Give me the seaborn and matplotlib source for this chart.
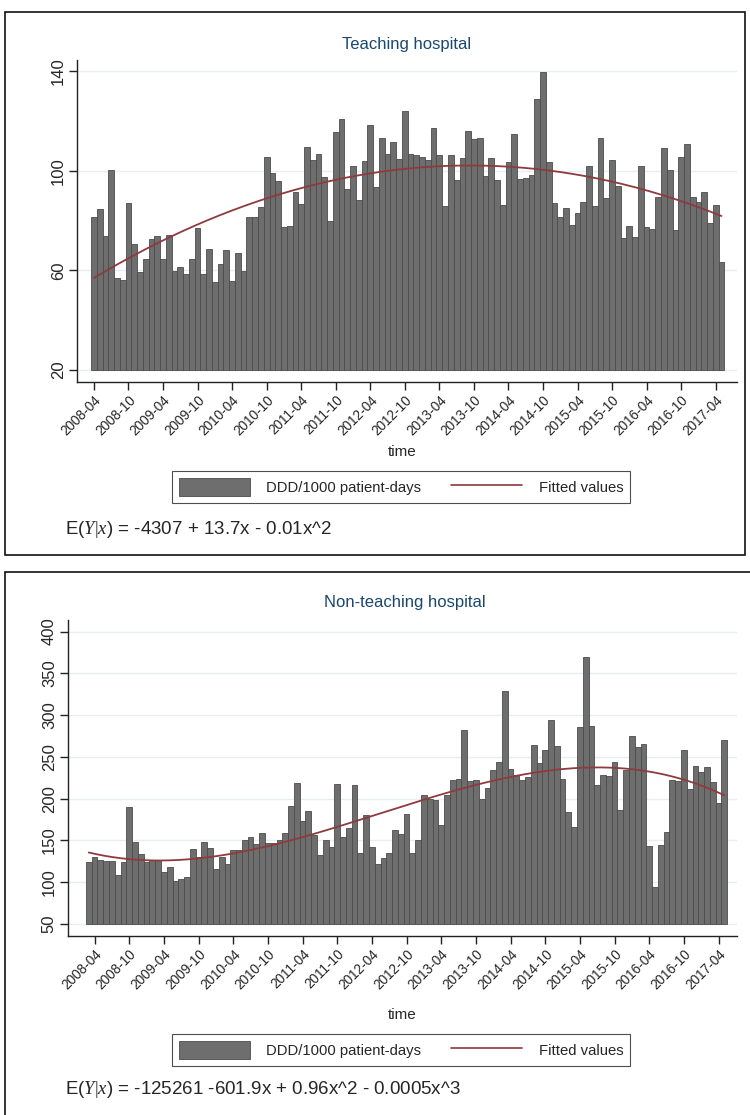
import numpy as np
import pandas as pd
import seaborn as sns
import matplotlib.pyplot as plt
from matplotlib.patches import Patch, Rectangle
from matplotlib.lines import Line2D

# --- data (DDD/1000 patient-days per month) ---
teach_months = pd.period_range("2008-04", "2017-05", freq="M").strftime("%Y-%m")
teach_ddd = [
    81.3, 84.5, 73.8, 100.3, 57.0, 56.1, 87.0, 70.6, 59.5, 64.4,
    72.6, 73.9, 64.4, 74.2, 59.7, 61.2, 58.4, 64.7, 77.0, 58.7,
    68.7, 55.3, 62.7, 68.3, 55.6, 67.1, 59.9, 81.3, 81.3, 85.3,
    105.6, 98.9, 96.0, 77.5, 77.8, 91.3, 86.6, 109.6, 104.3, 106.5,
    97.3, 80.0, 115.4, 120.6, 92.5, 101.9, 88.2, 103.9, 118.3, 93.6,
    113.0, 106.5, 111.6, 104.7, 124.1, 106.5, 106.3, 105.6, 104.3, 117.2,
    106.3, 85.8, 106.3, 96.3, 105.0, 116.0, 112.8, 113.0, 98.0, 105.2,
    96.3, 86.2, 103.6, 114.8, 96.5, 96.9, 98.3, 128.6, 139.7, 103.6,
    87.2, 81.3, 85.2, 78.2, 83.1, 87.6, 101.9, 85.8, 113.0, 88.9,
    104.3, 93.9, 72.8, 77.9, 73.3, 101.9, 77.3, 76.6, 89.6, 109.0,
    100.3, 76.2, 105.6, 110.6, 89.6, 87.3, 91.6, 78.9, 86.2, 63.2,
]

nonteach_months = pd.period_range("2008-03", "2017-05", freq="M").strftime("%Y-%m")
nonteach_ddd = [
    123.6, 130.4, 126.8, 125.2, 124.8, 108.4, 124.4, 189.6, 147.6, 134.0,
    123.6, 126.8, 126.8, 111.6, 117.6, 102.0, 103.6, 106.0, 139.2, 130.0,
    147.6, 140.4, 115.6, 130.0, 122.0, 138.4, 138.4, 150.4, 154.0, 146.0,
    159.2, 146.8, 146.8, 150.0, 159.2, 191.2, 218.8, 172.8, 184.8, 156.0,
    132.0, 150.0, 142.0, 218.0, 154.0, 164.8, 216.0, 135.2, 180.8, 142.0,
    122.0, 128.8, 135.2, 162.8, 158.0, 182.0, 135.2, 150.0, 204.8, 199.2,
    198.8, 168.8, 204.8, 222.0, 223.2, 282.0, 221.2, 222.8, 199.2, 213.2,
    234.0, 244.0, 328.8, 235.2, 228.8, 222.0, 226.0, 264.4, 242.8, 258.0,
    294.0, 263.2, 223.2, 184.0, 166.0, 285.2, 369.2, 286.8, 216.0, 228.0,
    226.8, 244.0, 186.8, 234.0, 275.2, 262.0, 264.8, 142.8, 94.8, 144.4,
    160.4, 222.0, 221.2, 258.0, 211.6, 239.6, 231.6, 238.0, 219.6, 194.8,
    270.0,
]

tick_labels = [f"{y}-{m}" for y in range(2008, 2018) for m in ("04", "10")][:-1]
teach_yticks = [20, 60, 100, 140]
nonteach_yticks = [50, 100, 150, 200, 250, 300, 350, 400]

BAR = "#6e6e6e"
EDGE = "#4b4b4b"
RED = "#8e3a3e"
TITLE = "#1a476f"
GRID = "#e6eef1"

sns.set_style("white")
plt.rcParams["font.family"] = ["Liberation Sans", "DejaVu Sans"]
plt.rcParams["mathtext.fontset"] = "custom"
plt.rcParams["mathtext.rm"] = "Liberation Serif"
plt.rcParams["mathtext.it"] = "Liberation Serif:italic"

W, H = 750, 1115
fig = plt.figure(figsize=(W / 100, H / 100), dpi=100)


def px_axes(left, top, right, bottom):
    return fig.add_axes([left / W, 1 - bottom / H, (right - left) / W, (bottom - top) / H])


def panel(ax, months, ddd, deg, yticks, base, ylim, xlim, first_tick):
    df = pd.DataFrame({"time": months, "ddd": ddd})
    sns.barplot(data=df, x="time", y="ddd", color=BAR, saturation=1, width=1,
                edgecolor=EDGE, linewidth=0.6, ax=ax)
    # Stata-style bars start at the axis minimum, not at zero
    for p in ax.patches:
        h = p.get_height()
        p.set_y(base)
        p.set_height(h - base)

    # fitted polynomial (quadratic / cubic) on the monthly series
    x = np.arange(len(ddd))
    coef = np.polyfit(x, ddd, deg)
    xs = np.linspace(0, len(ddd) - 1, 400)
    sns.lineplot(x=xs, y=np.polyval(coef, xs), color=RED, lw=1.3, ax=ax)

    ax.set_xlim(*xlim)
    ax.set_ylim(*ylim)
    ax.set_yticks(yticks)
    ax.set_yticklabels([str(v) for v in yticks], rotation=90, va="center", fontsize=12)
    pos = list(range(first_tick, first_tick + 6 * len(tick_labels), 6))
    ax.set_xticks(pos)
    ax.set_xticklabels(tick_labels, rotation=45, ha="right", rotation_mode="anchor", fontsize=9.8)
    ax.set_xlabel("")
    ax.set_ylabel("")
    ax.yaxis.grid(True, color=GRID, lw=1)
    ax.set_axisbelow(True)
    for s in ("top", "right"):
        ax.spines[s].set_visible(False)
    for s in ("left", "bottom"):
        ax.spines[s].set_color("#222222")
        ax.spines[s].set_linewidth(1)
    ax.tick_params(axis="both", direction="out", length=6, width=1, color="#222222", pad=2, left=True, bottom=True)


def legend(y):
    handles = [Patch(facecolor=BAR, edgecolor=EDGE, lw=0.6), Line2D([], [], color=RED, lw=1.2)]
    leg = fig.legend(handles, ["DDD/1000 patient-days", "Fitted values"], loc="center",
                     bbox_to_anchor=(401 / W, 1 - y / H), ncol=2, frameon=True, fancybox=False,
                     edgecolor="#222222", fontsize=10.7, handlelength=4.8, handleheight=1.5,
                     columnspacing=2.0, handletextpad=1.1, borderpad=0.45)
    leg.get_frame().set_linewidth(0.8)


# --- top: teaching hospital ---
ax1 = px_axes(77, 60, 737, 382)
panel(ax1, teach_months, teach_ddd, 2, teach_yticks, 20, (15.2, 144.4), (-2.94, 111.7), 0)
fig.text(407 / W, 1 - 45 / H, "Teaching hospital", ha="center", va="center", color=TITLE, fontsize=12)
fig.text(402 / W, 1 - 452 / H, "time", ha="center", va="center", fontsize=11)
legend(487)
fig.text(65 / W, 1 - 530 / H, r"E($Y|x$) = -4307 + 13.7x - 0.01x^2", ha="left", va="center", fontsize=13.5)
fig.add_artist(Rectangle((5 / W, 1 - 555 / H), 740 / W, 543 / H, transform=fig.transFigure,
                         fill=False, edgecolor="#111111", lw=1.2))

# --- bottom: non-teaching hospital ---
ax2 = px_axes(68, 620, 737, 936)
panel(ax2, nonteach_months, nonteach_ddd, 3, nonteach_yticks, 50, (35.6, 413.8), (-3.6, 112.2), 1)
fig.text(405 / W, 1 - 603 / H, "Non-teaching hospital", ha="center", va="center", color=TITLE, fontsize=12)
fig.text(402 / W, 1 - 1015 / H, "time", ha="center", va="center", fontsize=11)
legend(1050)
fig.text(65 / W, 1 - 1090 / H, r"E($Y|x$) = -125261 -601.9x + 0.96x^2 - 0.0005x^3", ha="left", va="center", fontsize=13.5)
fig.add_artist(Rectangle((5 / W, -0.02), 1.0, (H - 572) / H + 0.02, transform=fig.transFigure,
                         fill=False, edgecolor="#111111", lw=1.2))

fig.savefig("out.png", dpi=100, facecolor="white")
